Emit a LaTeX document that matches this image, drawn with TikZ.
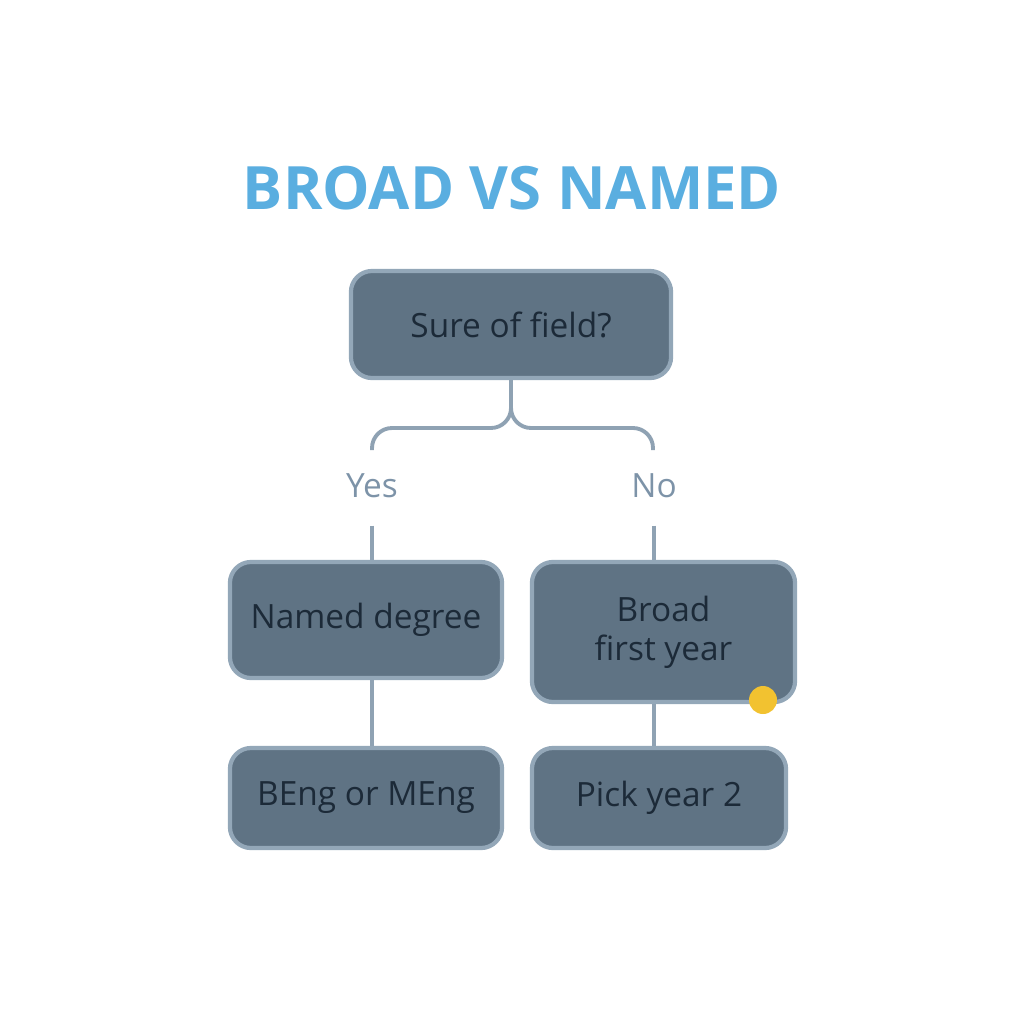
\documentclass[tikz,border=0pt]{standalone}
\usepackage{fontspec}
\setmainfont{Open Sans}
\definecolor{boxfill}{HTML}{5F7384}
\definecolor{boxedge}{HTML}{93A7B8}
\definecolor{boxtext}{HTML}{1C2A38}
\definecolor{linecol}{HTML}{8FA2B3}
\definecolor{labcol}{HTML}{7D93A8}
\definecolor{titlecol}{HTML}{5AAEE0}
\definecolor{dotcol}{HTML}{F2C230}
\tikzset{
	stage/.style={draw=boxedge, line width=1.2pt, fill=boxfill, rounded corners=6pt,
		text=boxtext, font=\fontsize{9.5pt}{11pt}\selectfont, align=center, inner sep=0pt},
	link/.style={draw=linecol, line width=1.1pt},
	answer/.style={text=labcol, font=\fontsize{9.5pt}{11pt}\selectfont}
}
\begin{document}
\begin{tikzpicture}[x=0.01cm, y=-0.01cm]
	\useasboundingbox (0,0) rectangle (1024,1024);
	
	%title
	\node[text=titlecol, font=\bfseries\fontsize{17pt}{20pt}\selectfont] (title) at (512,188) {BROAD VS NAMED};
	
	%question
	\node[stage, minimum width=3.2cm, minimum height=1.07cm] (q) at (511,324.5) {Sure of field?};
	
	%branch labels
	\node[answer] (yes) at (372,486) {Yes};
	\node[answer] (no) at (654,486) {No};
	
	%second level
	\node[stage, minimum width=2.72cm, minimum height=1.16cm] (named) at (366,620) {Named degree};
	\node[stage, minimum width=2.63cm, minimum height=1.4cm] (broad) at (663.5,632) {Broad\\first year};
	\fill[dotcol] (763,700) circle (14);
	
	%third level
	\node[stage, minimum width=2.72cm, minimum height=1.0cm] (beng) at (366,798) {BEng or MEng};
	\node[stage, minimum width=2.54cm, minimum height=1.0cm] (pick) at (659,798) {Pick year 2};
	
	%connectors
	\coordinate (fork) at (511,428);
	\draw[link, rounded corners=0.2cm] (q.south) -- (fork) -- (372,428) -- (372,450);
	\draw[link, rounded corners=0.2cm] (q.south) -- (fork) -- (653,428) -- (653,450);
	\draw[link] (yes.south) ++(0,15) -- (named.north -| yes);
	\draw[link] (no.south) ++(0,15) -- (broad.north -| no);
	\draw[link] (named.south -| yes) -- (beng.north -| yes);
	\draw[link] (broad.south -| no) -- (pick.north -| no);
\end{tikzpicture}
\end{document}
